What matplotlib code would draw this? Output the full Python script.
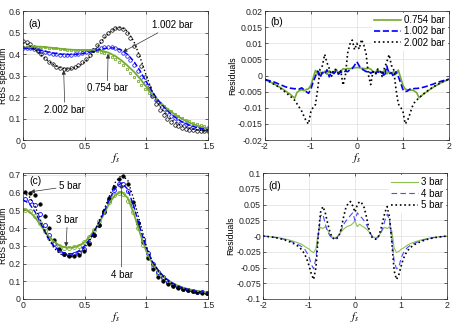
import numpy as np
import matplotlib
matplotlib.use("Agg")
import matplotlib.pyplot as plt
from matplotlib.ticker import FormatStrFormatter

plt.rcParams["font.family"] = ["Liberation Sans", "DejaVu Sans"]
plt.rcParams["axes.unicode_minus"] = False
plt.rcParams["mathtext.fontset"] = "stix"

# ── Dados ─────────────────────────────────────────────────────────────────────
# (a) espectros RBS, modelo (linhas) em passo de 0.05
fa_line = np.round(np.arange(0, 1.5001, 0.05), 3)
a_0754_line = [.430, .433, .435, .434, .431, .428, .425, .422, .420, .419, .419,
               .419, .418, .414, .405, .390, .370, .345, .318, .285, .248, .212,
               .182, .155, .132, .112, .095, .081, .070, .061, .054]
a_1002_line = [.428, .426, .422, .416, .410, .404, .400, .398, .398, .400, .404,
               .410, .418, .425, .429, .428, .418, .398, .366, .322, .272, .224,
               .183, .149, .121, .099, .082, .069, .060, .053, .048]
a_2002_line = [.452, .440, .420, .395, .370, .350, .337, .330, .332, .342, .362,
               .392, .430, .468, .500, .520, .524, .505, .458, .385, .300, .224,
               .166, .125, .096, .077, .064, .055, .049, .045, .042]

# (a) medidas (marcadores) em passo de 0.03
fa_pts = np.round(np.arange(0, 1.5001, 0.03), 3)
a_0754_pts = [.432, .433, .434, .435, .435, .434, .432, .430, .428, .426, .424,
              .422, .421, .420, .419, .418, .418, .418, .417, .416, .414, .410,
              .404, .396, .386, .375, .362, .347, .331, .313, .295, .276, .257,
              .238, .220, .203, .187, .172, .158, .145, .133, .122, .112, .103,
              .095, .088, .081, .075, .070, .065, .060]
a_1002_pts = [.430, .428, .426, .422, .418, .414, .410, .405, .401, .398, .396,
              .395, .395, .396, .398, .401, .405, .409, .414, .419, .424, .428,
              .431, .432, .431, .427, .419, .407, .391, .371, .348, .322, .294,
              .266, .238, .212, .188, .166, .146, .129, .114, .101, .090, .081,
              .073, .067, .062, .058, .055, .052, .050]
a_2002_pts = [.460, .455, .446, .432, .415, .398, .381, .365, .352, .341, .334,
              .330, .330, .333, .339, .349, .362, .378, .397, .418, .440, .462,
              .482, .499, .512, .520, .522, .516, .500, .474, .438, .394, .345,
              .295, .247, .205, .169, .139, .115, .097, .083, .072, .064, .058,
              .053, .049, .046, .044, .042, .041, .040]

# (b) e (d) resíduos, passo de 0.05 em [-2, 2]
fr = np.round(np.arange(-2, 2.0001, 0.05), 3)
b_0754 = [-.0013, -.0016, -.0019, -.0022, -.0026, -.0030, -.0034, -.0038, -.0043,
          -.0048, -.0053, -.0058, -.0064, -.0070, -.0052, -.0047, -.0044, -.0047,
          -.0043, -.0041, -.0030, -.0008, .0016, .0004, .0011, .0006, .0013,
          .0004, .0015, .0009, .0012, .0019, .0009, .0014, .0021, .0020, .0022,
          .0021, .0023, .0024, .0025,
          .0024, .0023, .0022, .0021, .0023, .0020, .0013, .0010, .0018, .0011,
          .0008, .0016, .0005, .0012, .0007, .0012, .0005, .0017, -.0006, -.0030,
          -.0042, -.0044, -.0046, -.0045, -.0048, -.0053, -.0069, -.0063, -.0057,
          -.0052, -.0047, -.0042, -.0037, -.0033, -.0029, -.0025, -.0021, -.0018,
          -.0015, -.0012]
b_1002 = [-.0012, -.0014, -.0016, -.0018, -.0020, -.0023, -.0026, -.0029, -.0032,
          -.0035, -.0037, -.0039, -.0040, -.0041, -.0040, -.0042, -.0038, -.0044,
          -.0050, -.0055, -.0042, -.0020, -.0002, .0014, -.0006, .0010, .0004,
          .0018, -.0004, .0012, .0006, .0014, .0004, .0012, .0008, .0014, .0012,
          .0018, .0022, .0032, .0043,
          .0030, .0021, .0017, .0012, .0015, .0007, .0012, .0003, .0014, .0005,
          .0011, -.0003, .0030, .0005, .0009, -.0004, .0012, -.0003, -.0022,
          -.0043, -.0050, -.0048, -.0042, -.0044, -.0040, -.0040, -.0039, -.0038,
          -.0036, -.0034, -.0032, -.0029, -.0027, -.0024, -.0022, -.0019, -.0017,
          -.0015, -.0013, -.0011]
b_2002 = [-.0013, -.0016, -.0019, -.0023, -.0027, -.0031, -.0036, -.0041, -.0046,
          -.0052, -.0058, -.0064, -.0070, -.0077, -.0088, -.0099, -.0110, -.0126,
          -.0142, -.0150, -.0112, -.0098, -.0090, -.0040, .0020, .0030, .0066,
          .0040, .0022, -.0002, .0020, .0018, .0005, .0015, -.0030, .0000, .0070,
          .0098, .0110, .0080, .0100,
          .0082, .0112, .0095, .0068, .0002, -.0028, .0012, .0004, .0020, .0018,
          -.0003, .0024, .0042, .0065, .0032, .0018, -.0042, -.0088, -.0098,
          -.0110, -.0150, -.0140, -.0120, -.0098, -.0084, -.0076, -.0069, -.0063,
          -.0057, -.0051, -.0046, -.0041, -.0036, -.0032, -.0028, -.0024, -.0020,
          -.0017, -.0014, -.0012]

# (c) espectros RBS, modelo (linhas) em passo de 0.05
fc_line = np.round(np.arange(0, 1.5001, 0.05), 3)
c_3_line = [.510, .495, .460, .410, .360, .325, .300, .290, .290, .300, .320,
            .360, .410, .470, .540, .590, .605, .570, .480, .370, .270, .200,
            .155, .120, .095, .077, .064, .054, .047, .041, .036]
c_4_line = [.560, .540, .490, .420, .350, .300, .270, .255, .255, .270, .300,
            .345, .410, .480, .560, .630, .655, .620, .520, .400, .290, .210,
            .160, .120, .095, .075, .062, .052, .045, .040, .035]
c_5_line = [.600, .580, .520, .430, .350, .290, .255, .240, .240, .255, .290,
            .340, .410, .490, .580, .660, .700, .670, .560, .430, .300, .210,
            .155, .115, .090, .072, .060, .050, .043, .038, .033]

# (c) medidas (marcadores) em passo de 0.04
fc_pts = np.round(np.arange(0.015, 1.5, 0.04), 3)
c_3_pts = [.505, .495, .470, .430, .385, .345, .315, .300, .290, .288, .292,
           .302, .320, .350, .390, .440, .495, .545, .585, .600, .595, .555,
           .490, .400, .305, .235, .180, .142, .113, .092, .076, .065, .056,
           .050, .045, .041, .038, .035]
c_4_pts = [.565, .555, .530, .480, .420, .360, .310, .275, .255, .250, .252,
           .262, .282, .315, .360, .420, .490, .560, .615, .650, .650, .610,
           .530, .430, .340, .260, .200, .155, .122, .098, .080, .067, .057,
           .050, .044, .040, .037, .034]
c_5_pts = [.602, .600, .588, .535, .470, .400, .335, .285, .255, .240, .240,
           .250, .270, .310, .360, .420, .495, .570, .630, .680, .695, .650,
           .550, .430, .320, .230, .170, .125, .100, .085, .072, .062, .054,
           .048, .043, .039, .036, .033]

d_3 = [.0000, -.0003, -.0006, -.0009, -.0013, -.0017, -.0022, -.0028, -.0034,
       -.0041, -.0049, -.0058, -.0068, -.0079, -.0091, -.0104, -.0118, -.0135,
       -.0160, -.0185, -.0205, -.0240, -.0265, -.0200, .0060, .0140, .0120,
       .0150, .0100, .0030, -.0015, -.0030, -.0020, .0020, .0070, .0110, .0140,
       .0160, .0170, .0200, .0240,
       .0150, .0190, .0160, .0140, .0110, .0070, .0020, -.0020, -.0030, -.0010,
       .0040, .0110, .0140, .0120, .0150, .0080, -.0190, -.0260, -.0245, -.0210,
       -.0190, -.0165, -.0140, -.0120, -.0105, -.0092, -.0080, -.0069, -.0059,
       -.0050, -.0042, -.0035, -.0029, -.0023, -.0018, -.0014, -.0010, -.0007,
       -.0004, -.0001]
d_4 = [.0000, -.0003, -.0006, -.0010, -.0014, -.0019, -.0025, -.0032, -.0040,
       -.0049, -.0059, -.0070, -.0083, -.0097, -.0112, -.0130, -.0150, -.0172,
       -.0200, -.0260, -.0330, -.0450, -.0520, -.0350, .0000, .0320, .0350,
       .0200, .0080, .0010, -.0030, -.0040, -.0030, .0020, .0100, .0180, .0240,
       .0280, .0330, .0370, .0250,
       .0370, .0320, .0290, .0240, .0180, .0100, .0020, -.0030, -.0040, -.0020,
       .0030, .0120, .0250, .0350, .0250, -.0050, -.0400, -.0520, -.0500,
       -.0350, -.0270, -.0210, -.0175, -.0150, -.0130, -.0112, -.0097, -.0083,
       -.0070, -.0059, -.0049, -.0040, -.0032, -.0025, -.0019, -.0014, -.0010,
       -.0006, -.0003, .0000]
d_5 = [.0000, -.0003, -.0007, -.0011, -.0016, -.0022, -.0029, -.0037, -.0046,
       -.0056, -.0068, -.0081, -.0096, -.0113, -.0132, -.0155, -.0185, -.0225,
       -.0280, -.0360, -.0470, -.0600, -.0690, -.0500, .0000, .0380, .0470,
       .0380, .0220, .0080, -.0020, -.0050, -.0040, .0000, .0120, .0300, .0450,
       .0520, .0550, .0480, .0380,
       .0500, .0550, .0520, .0450, .0300, .0120, .0000, -.0040, -.0050, -.0020,
       .0080, .0220, .0380, .0470, .0300, -.0100, -.0550, -.0690, -.0620,
       -.0480, -.0360, -.0280, -.0225, -.0185, -.0155, -.0132, -.0113, -.0096,
       -.0081, -.0068, -.0056, -.0046, -.0037, -.0029, -.0022, -.0016, -.0011,
       -.0007, -.0003, .0000]

VERDE = "#77ac30"
AZUL = "#0000ff"
FS = 6.3


def estilo(ax, xlim, ylim, yticks, xticks):
    ax.set_xlim(*xlim)
    ax.set_ylim(*ylim)
    ax.set_xticks(xticks)
    ax.set_yticks(np.round(yticks, 4))
    ax.xaxis.set_major_formatter(FormatStrFormatter("%g"))
    ax.yaxis.set_major_formatter(FormatStrFormatter("%g"))
    ax.grid(True, color="0.87", lw=0.5)
    ax.set_axisbelow(True)
    ax.tick_params(direction="in", length=2, width=0.5, labelsize=FS,
                   colors="0.15", top=True, right=True, pad=1.5)
    for s in ax.spines.values():
        s.set_linewidth(0.5)
        s.set_color("0.15")
    ax.set_xlabel("$f_s$", fontsize=8, labelpad=-0.3)


def seta(ax, texto, xy, xytext, **kw):
    ax.annotate(texto, xy=xy, xytext=xytext, fontsize=7, ha="center",
                va="center",
                arrowprops=dict(arrowstyle="-|>", color="0.2", lw=0.5,
                                mutation_scale=6, shrinkA=0, shrinkB=0), **kw)


fig = plt.figure(figsize=(4.59, 3.25), dpi=100)
ax_a = fig.add_axes([0.050, 0.569, 0.403, 0.397])
ax_b = fig.add_axes([0.577, 0.569, 0.401, 0.397])
ax_c = fig.add_axes([0.050, 0.080, 0.403, 0.387])
ax_d = fig.add_axes([0.573, 0.080, 0.401, 0.387])

# ── (a) ──────────────────────────────────────────────────────────────────────
ax_a.plot(fa_pts, a_0754_pts, "s", ms=2, mfc="none", mec=VERDE, mew=0.6)
ax_a.plot(fa_pts, a_1002_pts, "o", ms=2.5, mfc="none", mec=AZUL, mew=0.5)
ax_a.plot(fa_pts, a_2002_pts, "o", ms=2.5, mfc="none", mec="k", mew=0.5)
ax_a.plot(fa_line, a_0754_line, "-", color=VERDE, lw=1.3)
ax_a.plot(fa_line, a_1002_line, "--", color=AZUL, lw=1.0)
ax_a.plot(fa_line, a_2002_line, ":", color="k", lw=1.0)
estilo(ax_a, (0, 1.5), (0, 0.6), np.arange(0, 0.61, 0.1), [0, 0.5, 1, 1.5])
ax_a.set_ylabel("RBS spectrum", fontsize=FS, labelpad=0.5)
ax_a.text(0.04, 0.54, "(a)", fontsize=7.5, va="center")
seta(ax_a, "1.002 bar", (0.81, 0.41), (1.21, 0.535))
seta(ax_a, "0.754 bar", (0.69, 0.40), (0.685, 0.24))
seta(ax_a, "2.002 bar", (0.33, 0.325), (0.34, 0.14))

# ── (b) ──────────────────────────────────────────────────────────────────────
ax_b.plot(fr, b_0754, "-", color=VERDE, lw=1.2, label="0.754 bar")
ax_b.plot(fr, b_1002, "--", color=AZUL, lw=1.2, label="1.002 bar")
ax_b.plot(fr, b_2002, ":", color="k", lw=1.2, label="2.002 bar")
estilo(ax_b, (-2, 2), (-0.02, 0.02), np.arange(-0.02, 0.0201, 0.005),
       [-2, -1, 0, 1, 2])
ax_b.set_ylabel("Residuals", fontsize=FS, labelpad=0.5)
ax_b.text(-1.88, 0.0165, "(b)", fontsize=7.5, va="center")
leg = ax_b.legend(loc="upper right", fontsize=FS + 0.7, frameon=True,
                  handlelength=2.8, borderpad=0.2, labelspacing=0.15,
                  handletextpad=0.3, borderaxespad=0.2, fancybox=False)
leg.get_frame().set_edgecolor("white")
leg.get_frame().set_alpha(1)

# ── (c) ──────────────────────────────────────────────────────────────────────
ax_c.plot(fc_pts, c_3_pts, "o", ms=2.8, mfc="none", mec=VERDE, mew=0.6)
ax_c.plot(fc_pts, c_4_pts, "o", ms=2.8, mfc="none", mec=AZUL, mew=0.6)
ax_c.plot(fc_pts, c_5_pts, "o", ms=2.5, mfc="k", mec="k", mew=0.5)
ax_c.plot(fc_line, c_3_line, "-", color=VERDE, lw=1.3)
ax_c.plot(fc_line, c_4_line, "--", color=AZUL, lw=1.0)
ax_c.plot(fc_line, c_5_line, ":", color="k", lw=1.0)
estilo(ax_c, (0, 1.5), (0, 0.71), np.arange(0, 0.71, 0.1), [0, 0.5, 1, 1.5])
ax_c.set_ylabel("RBS spectrum", fontsize=FS, labelpad=0.5)
ax_c.text(0.05, 0.665, "(c)", fontsize=7.5, va="center")
seta(ax_c, "5 bar", (0.06, 0.605), (0.38, 0.637))
seta(ax_c, "3 bar", (0.35, 0.295), (0.36, 0.448))
seta(ax_c, "4 bar", (0.80, 0.65), (0.80, 0.137))

# ── (d) ──────────────────────────────────────────────────────────────────────
ax_d.plot(fr, d_3, "-", color="#8cc152", lw=0.8, label="3 bar")
ax_d.plot(fr, d_4, "--", color="#4d4dff", lw=0.8, dashes=(5, 3), label="4 bar")
ax_d.plot(fr, d_5, ":", color="k", lw=1.2, label="5 bar")
estilo(ax_d, (-2, 2), (-0.1, 0.1), np.arange(-0.1, 0.1001, 0.025),
       [-2, -1, 0, 1, 2])
ax_d.set_ylabel("Residuals", fontsize=FS, labelpad=0.5)
ax_d.text(-1.88, 0.08, "(d)", fontsize=7.5, va="center")
leg = ax_d.legend(loc="upper right", fontsize=FS + 0.7, frameon=True,
                  handlelength=2.8, borderpad=0.2, labelspacing=0.15,
                  handletextpad=0.3, borderaxespad=0.2, fancybox=False)
leg.get_frame().set_edgecolor("white")
leg.get_frame().set_alpha(1)

fig.savefig("out.png", dpi=100)
